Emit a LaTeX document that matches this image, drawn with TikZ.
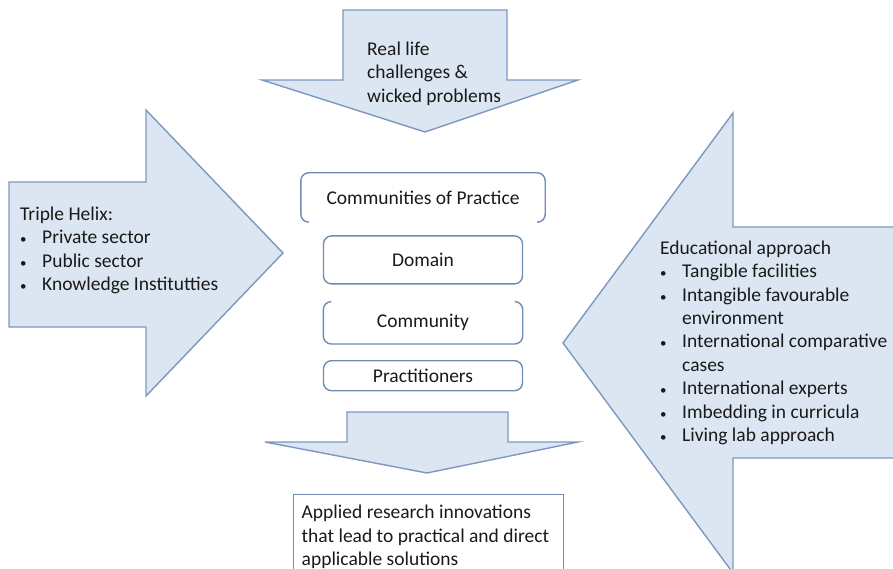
\documentclass[tikz,border=0pt]{standalone}
\usepackage{fontspec}
\setmainfont{Carlito}
\usetikzlibrary{positioning}

\definecolor{arrowfill}{RGB}{220,230,242}
\definecolor{arrowline}{RGB}{124,152,192}
\definecolor{boxline}{RGB}{112,140,178}
\definecolor{inkgray}{RGB}{25,25,25}

\newcommand{\dgmfont}{\fontsize{19.5}{23.4}\selectfont}
\newcommand{\bul}{\makebox[22pt][l]{\fontsize{13}{13}\selectfont\textbullet}}
\newcommand{\cont}{\hspace*{22pt}}

\tikzset{%
  % Specifications for style of shapes and nodes:
     bigarrow/.style = {fill=arrowfill, draw=arrowline, line width=1.4pt},
      outline/.style = {draw=boxline, line width=1.4pt, rounded corners=8pt},
         base/.style = {rectangle, rounded corners=8pt, inner sep=0pt,
                        minimum width=199pt, text centered},
     layerbox/.style = {base, draw=boxline, line width=1.4pt},
      openbox/.style = {base, minimum width=244pt, minimum height=49pt},
    labeltext/.style = {align=left, anchor=north west, inner sep=0pt},
    resultbox/.style = {rectangle, draw=boxline, line width=1.4pt, anchor=north west,
                        align=flush left, text width=254pt, inner xsep=8pt, inner ysep=10.5pt},
}

\begin{document}
\begin{tikzpicture}[x=1pt, y=-1pt,
    every node/.style={font=\dgmfont, text=inkgray}]

\useasboundingbox (0,0) rectangle (893,569);
\clip (0,0) rectangle (893,569);

% the four block arrows
\draw[bigarrow] (343,10) -- (507,10) -- (507,80) -- (578,80) -- (425,132)
    -- (262,80) -- (343,80) -- cycle;
\draw[bigarrow] (9,182) -- (146,182) -- (146,110) -- (283,253) -- (146,396)
    -- (146,327) -- (9,327) -- cycle;
\draw[bigarrow] (905,227) -- (733,227) -- (733,113) -- (563,343) -- (733,573)
    -- (733,458) -- (905,458);
\draw[bigarrow] (347,412) -- (508,412) -- (508,442) -- (578,442) -- (427,473)
    -- (265,442) -- (347,442) -- cycle;

\node (Challenges) [labeltext] at (367,41.5) {Real life\\challenges \&\\wicked problems};

\node (Helix) [labeltext] at (20,206.5) {Triple Helix:\\\bul Private sector\\\bul Public sector\\\bul Knowledge Institutties};

\node (Approach) [labeltext] at (660,240.5) {Educational approach\\\bul Tangible facilities\\\bul Intangible favourable\\\cont environment\\\bul International comparative\\\cont cases\\\bul International experts\\\bul Imbedding in curricula\\\bul Living lab approach};

% communities of practice stack
\node (CoP)           [openbox] at (423,197.5)          {Communities of Practice};

\node (Domain)        [layerbox, minimum height=48pt, below=13pt of CoP]       {Domain};

\node (Community)     [base, minimum height=42pt, below=17pt of Domain]        {Community};

\node (Practitioners) [layerbox, minimum height=30pt, below=16pt of Community]  {Practitioners};

\draw[outline] ([xshift=8pt]CoP.south west) -| (CoP.north west) -| (CoP.south east)
    -- ([xshift=-8pt]CoP.south east);
\draw[outline] ([xshift=8pt]Community.north west) -| (Community.south west)
    -| (Community.north east) -- ([xshift=-8pt]Community.north east);

\node (Result) [resultbox] at (293,494) {Applied research innovations\\that lead to practical and direct\\applicable solutions};
\end{tikzpicture}
\end{document}
